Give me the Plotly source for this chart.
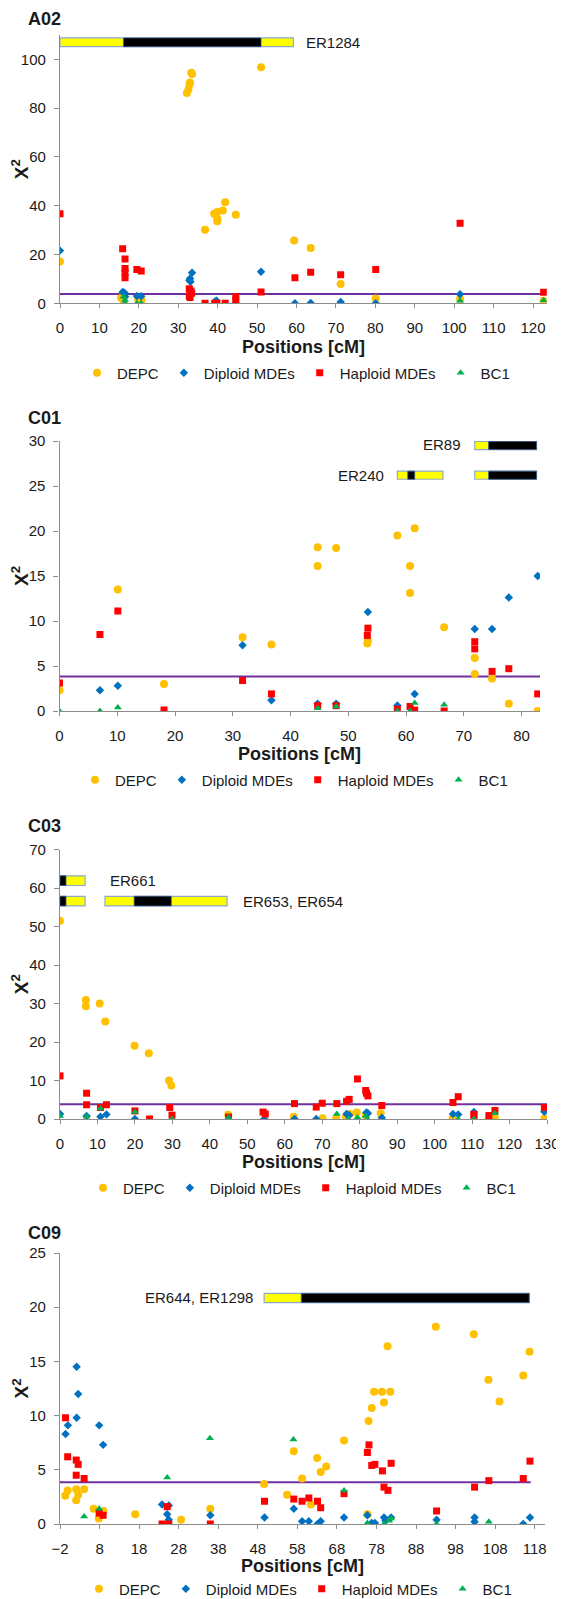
import plotly.graph_objects as go

W, H = 564, 1599
OFF = 8  # browser default body margin shifts the figure by 8px
FONT = "Liberation Sans, Arial, sans-serif"

# ---------------- data ----------------
series_names = ["DEPC", "Diploid MDEs", "Haploid MDEs", "BC1"]
chi_crit = 3.84

# A02
a02_depc_x = [0, 15.5, 16.1, 19.8, 20.7, 32.2, 32.6, 32.9, 33.0, 33.3, 33.5, 36.8, 39.1, 39.9, 39.9, 39.9, 41.3, 41.9, 44.6, 51.0, 59.4, 63.6, 71.2, 80.1, 101.5, 122.7]
a02_depc_y = [17.1, 2.2, 1.4, 1.8, 1.4, 86.2, 87.8, 89.8, 90.5, 94.5, 94.0, 30.2, 36.7, 37.4, 34.7, 33.6, 38.0, 41.4, 36.3, 96.8, 25.7, 22.7, 7.9, 2.0, 1.8, 1.0]
a02_dip_x = [0, 15.9, 16.3, 16.6, 16.5, 19.5, 20.6, 32.8, 33.0, 33.1, 33.5, 39.3, 39.7, 44.6, 51.0, 59.6, 63.6, 71.2, 80.1, 101.5]
a02_dip_y = [21.6, 4.6, 4.3, 3.8, 2.7, 3.0, 2.9, 9.5, 10.2, 8.8, 12.5, 0.7, 1.1, 0.0, 12.9, 0.0, 0.1, 0.5, 0.0, 3.7]
a02_hap_x = [0, 15.9, 16.5, 16.5, 16.5, 16.5, 19.5, 20.6, 32.8, 33.2, 33.4, 32.8, 33.0, 36.8, 39.3, 39.8, 41.9, 44.6, 44.6, 51.0, 59.6, 63.6, 71.2, 80.1, 101.5, 122.7]
a02_hap_y = [36.7, 22.4, 18.2, 14.3, 12.5, 10.5, 13.9, 13.2, 6.0, 5.0, 4.1, 3.0, 2.4, 0.0, 0.0, 0.0, 0.0, 2.7, 1.4, 4.6, 10.5, 12.7, 11.7, 13.9, 32.8, 4.5]
a02_bc1_x = [16.1, 16.5, 16.5, 19.5, 20.6, 101.5, 122.7]
a02_bc1_y = [2.7, 1.4, 0.2, 0.0, 0.0, 1.0, 1.2]

# C01
c01_depc_x = [0, 10.1, 18.1, 31.7, 36.7, 44.7, 44.7, 47.9, 53.3, 53.4, 58.5, 61.5, 60.7, 60.7, 66.6, 71.9, 71.9, 74.9, 77.8, 82.8]
c01_depc_y = [2.3, 13.5, 3.0, 8.2, 7.4, 16.1, 18.2, 18.1, 7.5, 7.8, 19.5, 20.3, 16.1, 13.1, 9.3, 5.9, 4.1, 3.6, 0.8, 0.0]
c01_dip_x = [7.0, 10.1, 31.7, 36.7, 44.7, 47.9, 53.4, 58.5, 61.5, 71.9, 74.9, 77.8, 82.8]
c01_dip_y = [2.3, 2.8, 7.3, 1.2, 0.8, 0.8, 11.0, 0.6, 1.9, 9.1, 9.1, 12.6, 15.0]
c01_hap_x = [0, 7.0, 10.1, 18.1, 31.7, 36.7, 44.7, 47.9, 53.3, 53.4, 58.5, 60.7, 61.5, 66.6, 71.9, 71.9, 74.9, 77.8, 82.8]
c01_hap_y = [3.1, 8.5, 11.1, 0.1, 3.4, 1.9, 0.6, 0.6, 8.4, 9.2, 0.2, 0.5, 0.1, 0.0, 7.7, 6.9, 4.4, 4.7, 1.9]
c01_bc1_x = [0, 7.0, 10.1, 44.7, 47.9, 58.5, 60.7, 61.5, 66.6]
c01_bc1_y = [0.0, 0.0, 0.4, 0.3, 0.5, 0.0, 0.0, 0.9, 0.7]

# C03
c03_depc_x = [0, 6.9, 6.9, 10.6, 12.1, 19.9, 23.7, 29.1, 29.7, 44.9, 62.4, 70.1, 73.7, 76.3, 77.3, 79.2, 81.6, 85.6, 104.8, 114.4, 116.1, 129.3]
c03_depc_y = [51.5, 30.9, 29.3, 30.0, 25.3, 19.0, 17.1, 10.0, 8.7, 1.1, 0.6, 0.2, 0.2, 0.6, 1.3, 1.7, 1.0, 1.5, 0.2, 0.0, 0.2, 0.1]
c03_dip_x = [0, 7.1, 10.8, 12.4, 20.0, 54.5, 62.6, 68.4, 76.5, 77.2, 81.8, 82.2, 85.9, 104.9, 106.3, 110.5, 129.3]
c03_dip_y = [1.3, 0.8, 0.6, 1.2, 0.0, 0.0, 0.0, 0.0, 1.3, 1.0, 1.7, 1.5, 0.3, 1.3, 1.2, 1.8, 1.9]
c03_hap_x = [0, 7.1, 7.1, 10.8, 12.4, 20.0, 23.9, 29.3, 29.9, 45.0, 54.2, 54.8, 62.6, 68.4, 70.0, 73.9, 76.5, 77.2, 79.4, 81.6, 81.8, 82.2, 85.9, 104.9, 106.3, 110.5, 110.5, 114.5, 116.1, 129.3]
c03_hap_y = [11.2, 6.7, 3.7, 3.0, 3.7, 2.1, 0.0, 3.0, 1.0, 0.5, 1.8, 1.3, 4.0, 3.1, 4.1, 4.0, 4.6, 5.1, 10.4, 7.4, 6.7, 6.0, 3.5, 4.3, 5.8, 1.2, 0.6, 0.9, 2.2, 3.0]
c03_bc1_x = [0, 7.1, 10.8, 20.0, 29.9, 45.0, 73.9, 77.0, 79.4, 81.6, 82.1, 106.3, 110.5, 116.1]
c03_bc1_y = [0.8, 0.6, 2.7, 1.8, 0.0, 0.4, 1.3, 0.0, 0.4, 0.8, 0.0, 0.0, 0.0, 1.5]

# C09
c09_depc_x = [-0.65, -0.06, 2.1, 2.6, 2.1, 4.1, 6.5, 7.8, 9.0, 17.0, 28.6, 36.0, 49.6, 55.4, 57.1, 59.2, 61.4, 63.0, 63.9, 65.3, 69.8, 75.7, 76.0, 76.8, 77.4, 79.4, 79.9, 80.8, 81.5, 93.0, 102.6, 106.3, 109.1, 115.1, 116.7]
c09_depc_y = [2.6, 3.1, 3.2, 2.7, 2.2, 3.2, 1.4, 0.5, 1.2, 0.9, 0.4, 1.4, 3.7, 2.7, 6.7, 4.2, 1.8, 6.1, 4.8, 5.3, 7.7, 0.9, 9.5, 10.7, 12.2, 12.2, 11.2, 16.4, 12.2, 18.2, 17.5, 13.3, 11.3, 13.7, 15.9]
c09_dip_x = [-0.6, 0.0, 2.2, 2.6, 2.2, 7.9, 8.9, 23.8, 25.5, 25.1, 25.5, 36.0, 49.7, 57.1, 59.2, 60.9, 63.1, 63.9, 69.8, 75.7, 76.8, 77.6, 79.9, 80.3, 81.7, 93.2, 102.8, 102.8, 115.1, 116.8]
c09_dip_y = [8.3, 9.1, 14.5, 12.0, 9.8, 9.1, 7.3, 1.8, 1.7, 0.9, 0.4, 0.8, 0.6, 1.4, 0.25, 0.25, 0.0, 0.25, 0.6, 0.8, 0.1, 0.1, 0.6, 0.3, 0.6, 0.4, 0.6, 0.2, 0.0, 0.6]
c09_hap_x = [-0.6, -0.06, 2.1, 2.6, 2.1, 4.1, 7.9, 8.9, 23.8, 25.5, 25.1, 36.0, 49.7, 57.1, 59.2, 60.9, 63.1, 63.9, 69.8, 75.7, 76.1, 76.8, 77.6, 79.5, 81.7, 79.9, 80.9, 93.2, 102.8, 106.4, 115.1, 116.8]
c09_hap_y = [9.8, 6.2, 5.9, 5.5, 4.5, 4.2, 1.0, 0.8, 0.0, 0.0, 1.6, 0.0, 2.1, 2.3, 2.1, 2.4, 2.1, 1.5, 2.8, 6.6, 7.3, 5.4, 5.5, 4.9, 5.6, 3.4, 3.1, 1.2, 3.4, 4.0, 4.2, 5.8]
c09_bc1_x = [4.1, 7.9, 25.1, 35.9, 57.0, 69.8, 75.7, 79.9, 81.2, 81.7, 93.2, 106.4]
c09_bc1_y = [0.7, 1.4, 4.3, 7.9, 7.8, 3.1, 0.1, 0.0, 0.3, 0.5, 0.0, 0.2]

# ER region bars: (yellow_start, yellow_end, black_start, black_end, row_y)
a02_bars = [(0, 59.2, 16.1, 51.0, 107.0)]
a02_labels = [("ER1284", 62.0, 107.0, "left")]
c01_bars = [(71.9, 82.6, 74.3, 82.6, 29.5), (58.5, 66.4, 60.3, 61.5, 26.2), (71.9, 82.6, 74.3, 82.6, 26.2)]
c01_labels = [("ER89", 69.8, 29.6, "right"), ("ER240", 56.6, 26.2, "right")]
c03_bars = [(0, 6.7, 0, 1.6, 61.9), (0, 6.7, 0, 1.6, 56.6), (12.0, 44.6, 19.8, 29.7, 56.6)]
c03_labels = [("ER661", 12.7, 61.9, "left"), ("ER653, ER654", 48.3, 56.6, "left")]
c09_bars = [(49.6, 116.6, 59.0, 116.6, 20.85)]
c09_labels = [("ER644, ER1298", 47.2, 20.85, "right")]

# ---------------- layout geometry (page pixels) ----------------
def py(p):  # page pixel from top -> paper fraction
    return 1 - (p - OFF) / H

def px(p):
    return (p - OFF) / W

panels = [
    dict(name="A02", sx=[a02_depc_x, a02_dip_x, a02_hap_x, a02_bc1_x], sy=[a02_depc_y, a02_dip_y, a02_hap_y, a02_bc1_y],
         xr=[0, 123.5], xdom=[60, 546.8], yr=[0, 110], ytick=(0, 100, 20), ydom=[303.3, 35], xtick0=0, thr=[0, 123],
         bars=a02_bars, labels=a02_labels, bar_h=3.6, title_y=19, xt_y=347, leg_y=373, leg_x=296),
    dict(name="C01", sx=[c01_depc_x, c01_dip_x, c01_hap_x, c01_bc1_x], sy=[c01_depc_y, c01_dip_y, c01_hap_y, c01_bc1_y],
         xr=[0, 83.2], xdom=[59.5, 540], yr=[0, 30], ytick=(0, 30, 5), ydom=[711, 441], xtick0=0, thr=[0, 83.2],
         bars=c01_bars, labels=c01_labels, bar_h=0.9, title_y=418, xt_y=754, leg_y=780, leg_x=294),
    dict(name="C03", sx=[c03_depc_x, c03_dip_x, c03_hap_x, c03_bc1_x], sy=[c03_depc_y, c03_dip_y, c03_hap_y, c03_bc1_y],
         xr=[0, 130], xdom=[60, 547], yr=[0, 70], ytick=(0, 70, 10), ydom=[1119, 849.5], xtick0=0, thr=[0, 130],
         bars=c03_bars, labels=c03_labels, bar_h=2.5, title_y=826, xt_y=1162, leg_y=1188, leg_x=302),
    dict(name="C09", sx=[c09_depc_x, c09_dip_x, c09_hap_x, c09_bc1_x], sy=[c09_depc_y, c09_dip_y, c09_hap_y, c09_bc1_y],
         xr=[-2, 120.6], xdom=[60, 545], yr=[0, 25], ytick=(0, 25, 5), ydom=[1524, 1253], xtick0=-2, thr=[-2, 117],
         bars=c09_bars, labels=c09_labels, bar_h=0.85, title_y=1233, xt_y=1566, leg_y=1589, leg_x=298),
]

colors = ["#FFC000", "#0070C0", "#FF0000", "#00B050"]
symbols = ["circle", "diamond", "square", "triangle-up"]
sizes = [8, 6.5, 7, 7]
AXC = "#8C8C8C"
TXT = "#1a1a1a"

fig = go.Figure()
layout = dict(width=W, height=H, margin=dict(l=0, r=0, t=0, b=0, autoexpand=False),
              plot_bgcolor="white", paper_bgcolor="white",
              font=dict(family=FONT, color=TXT, size=15), annotations=[], shapes=[])

for i, p in enumerate(panels):
    k = "" if i == 0 else str(i + 1)
    xa, ya = "x" + k, "y" + k
    leg = "legend" + k
    fig.add_trace(go.Scatter(x=p["thr"], y=[chi_crit, chi_crit], mode="lines", xaxis=xa, yaxis=ya,
                             line=dict(color="#7030A0", width=2), showlegend=False, hoverinfo="skip", legend=leg))
    for j in range(4):
        fig.add_trace(go.Scatter(x=p["sx"][j], y=p["sy"][j], mode="markers", name=series_names[j],
                                 xaxis=xa, yaxis=ya, legend=leg,
                                 marker=dict(color=colors[j], symbol=symbols[j], size=sizes[j], line=dict(width=0))))
    y0, y1, ys = p["ytick"]
    tv = list(range(y0, y1 + 1, ys))
    layout["xaxis" + k] = dict(domain=[px(p["xdom"][0]), px(p["xdom"][1])], range=p["xr"], anchor=ya,
                               tick0=p["xtick0"], dtick=10, showgrid=False, zeroline=False, automargin=False,
                               showline=True, linecolor=AXC, linewidth=1.3, ticks="outside", ticklen=4,
                               tickcolor=AXC, tickfont=dict(size=15, color=TXT), ticklabelstandoff=7)
    layout["yaxis" + k] = dict(domain=[py(p["ydom"][0]), py(p["ydom"][1])], range=p["yr"], anchor=xa,
                               tickvals=tv, showgrid=False, zeroline=False, automargin=False,
                               showline=True, linecolor=AXC, linewidth=1.3, ticks="outside", ticklen=5,
                               tickcolor=AXC, tickfont=dict(size=15, color=TXT), ticklabelstandoff=5)
    layout[leg] = dict(orientation="h", x=px(p["leg_x"]), xanchor="center", y=py(p["leg_y"]), yanchor="middle",
                       font=dict(size=15, color=TXT), bgcolor="rgba(0,0,0,0)", itemwidth=30, tracegroupgap=0)
    layout["annotations"].append(dict(text="<b>%s</b>" % p["name"], xref="paper", yref="paper",
                                      x=px(26), y=py(p["title_y"]), xanchor="left", yanchor="middle",
                                      showarrow=False, font=dict(size=18, color=TXT)))
    layout["annotations"].append(dict(text="<b>X<sup>2</sup></b>", xref="paper", yref="paper",
                                      x=px(20), y=py((p["ydom"][0] + p["ydom"][1]) / 2), xanchor="center",
                                      yanchor="middle", textangle=-90, showarrow=False,
                                      font=dict(size=19, color=TXT)))
    layout["annotations"].append(dict(text="<b>Positions [cM]</b>", xref="paper", yref="paper",
                                      x=px((p["xdom"][0] + p["xdom"][1]) / 2), y=py(p["xt_y"]),
                                      xanchor="center", yanchor="middle", showarrow=False,
                                      font=dict(size=18, color=TXT)))
    hh = p["bar_h"] / 2
    for (ys0, ye0, bs, be, ry) in p["bars"]:
        layout["shapes"].append(dict(type="rect", xref=xa, yref=ya, x0=ys0, x1=ye0, y0=ry - hh, y1=ry + hh,
                                     fillcolor="#FFFF00", line=dict(color="#8EA9CF", width=1.2)))
        if be > bs:
            layout["shapes"].append(dict(type="rect", xref=xa, yref=ya, x0=bs, x1=be, y0=ry - hh, y1=ry + hh,
                                         fillcolor="#000000", line=dict(color="#3A5A80", width=0.8)))
    for (txt, lx, ly, al) in p["labels"]:
        layout["annotations"].append(dict(text=txt, xref=xa, yref=ya, x=lx, y=ly, xanchor=al, yanchor="middle",
                                          showarrow=False, font=dict(size=15, color=TXT)))

fig.update_layout(**layout)
fig.write_html("out.html")
